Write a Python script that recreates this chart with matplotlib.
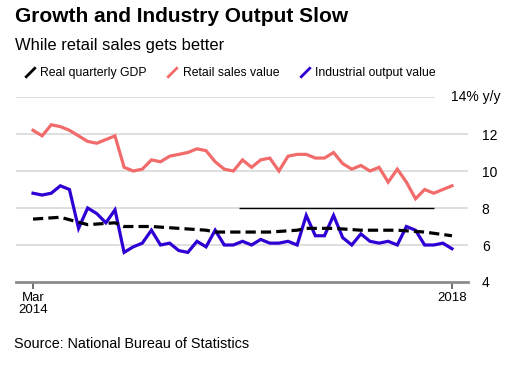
import matplotlib
matplotlib.use("Agg")
import matplotlib.pyplot as plt
from matplotlib.lines import Line2D
from matplotlib.path import Path

plt.rcParams['font.family'] = ['Liberation Sans', 'DejaVu Sans']

# monthly points, Mar-Dec each year (Jan/Feb not shown), Mar 2014 .. Sep 2018
retail = [12.2, 11.9, 12.5, 12.4, 12.2, 11.9, 11.6, 11.5, 11.7, 11.9,
          10.2, 10.0, 10.1, 10.6, 10.5, 10.8, 10.9, 11.0, 11.2, 11.1,
          10.5, 10.1, 10.0, 10.6, 10.2, 10.6, 10.7, 10.0, 10.8, 10.9,
          10.9, 10.7, 10.7, 11.0, 10.4, 10.1, 10.3, 10.0, 10.2, 9.4,
          10.1, 9.4, 8.5, 9.0, 8.8, 9.0, 9.2]
industry = [8.8, 8.7, 8.8, 9.2, 9.0, 6.9, 8.0, 7.7, 7.2, 7.9,
            5.6, 5.9, 6.1, 6.8, 6.0, 6.1, 5.7, 5.6, 6.2, 5.9,
            6.8, 6.0, 6.0, 6.2, 6.0, 6.3, 6.1, 6.1, 6.2, 6.0,
            7.6, 6.5, 6.5, 7.6, 6.4, 6.0, 6.6, 6.2, 6.1, 6.2,
            6.0, 7.0, 6.8, 6.0, 6.0, 6.1, 5.8]
# quarterly GDP placed at quarter-end months (index in the monthly series)
gdp_idx = [0, 3, 6, 9, 10, 13, 16, 19, 20, 23, 26, 29, 30, 33, 36, 39, 40, 43, 46]
gdp = [7.4, 7.5, 7.1, 7.2, 7.0, 7.0, 6.9, 6.8, 6.7, 6.7, 6.7, 6.8,
       6.9, 6.9, 6.8, 6.8, 6.8, 6.7, 6.5]
ref_line = (8, 22.6, 44)  # stray horizontal rule in the original
x_ticks = [0, 46]
x_labels = ['Mar\n2014', '2018']
y_ticks = [4, 6, 8, 10, 12]

red = '#f26b6b'
blue = '#2e00d4'

fig = plt.figure(figsize=(5.11, 3.65), dpi=100)
ax = fig.add_axes([0.0313, 0.2274, 0.8845, 0.5068])

x = list(range(len(retail)))
for yv in [6, 8, 10, 12]:
    ax.axhline(yv, color='#dcdcdc', lw=1.3, zorder=0)
ax.axhline(14, xmax=0.925, color='#dcdcdc', lw=1.3, zorder=0)

ax.plot(x, retail, color=red, lw=2.3, solid_joinstyle='miter', zorder=3)
ax.plot(x, industry, color=blue, lw=2.3, solid_joinstyle='miter', zorder=4)
ax.plot(gdp_idx, gdp, color='black', lw=2.3, dashes=(3.2, 1.6), zorder=5)
ax.hlines(ref_line[0], ref_line[1], ref_line[2], color='black', lw=1.0, zorder=2)

ax.set_xlim(-1.87, 47.76)
ax.set_ylim(4, 14)
for s in ['top', 'left', 'right']:
    ax.spines[s].set_visible(False)
ax.spines['bottom'].set_color('#8c8c8c')
ax.spines['bottom'].set_linewidth(2)

ax.set_xticks(x_ticks)
ax.set_xticklabels(x_labels, fontsize=9.5, linespacing=1.0)
ax.tick_params(axis='x', length=5, width=1.2, color='#555555', pad=2)
ax.yaxis.tick_right()
ax.set_yticks(y_ticks)
ax.set_yticklabels([str(v) for v in y_ticks], fontsize=10)
ax.tick_params(axis='y', length=0, pad=10)
ax.text(0.962, 1.0, '14% y/y', transform=ax.transAxes, fontsize=10,
        va='center', ha='left')

fig.text(0.029, 0.955, 'Growth and Industry Output Slow', fontsize=15,
         fontweight='bold', va='center', ha='left')
fig.text(0.029, 0.875, 'While retail sales gets better', fontsize=11.9,
         va='center', ha='left')
fig.text(0.027, 0.057, 'Source: National Bureau of Statistics', fontsize=10.4,
         va='center', ha='left')

slash = Path([(-1, -1), (1, 1)], [Path.MOVETO, Path.LINETO])
handles = [Line2D([], [], marker=slash, ms=7.5, mew=2.0, ls='none', color=c)
           for c in ['black', red, blue]]
fig.legend(handles, ['Real quarterly GDP', 'Retail sales value', 'Industrial output value'],
           loc='center left', bbox_to_anchor=(0.025, 0.8), ncol=3, frameon=False,
           fontsize=8.8, handletextpad=0.35, columnspacing=1.6, handlelength=1.0)

fig.savefig('out.png', dpi=100)
